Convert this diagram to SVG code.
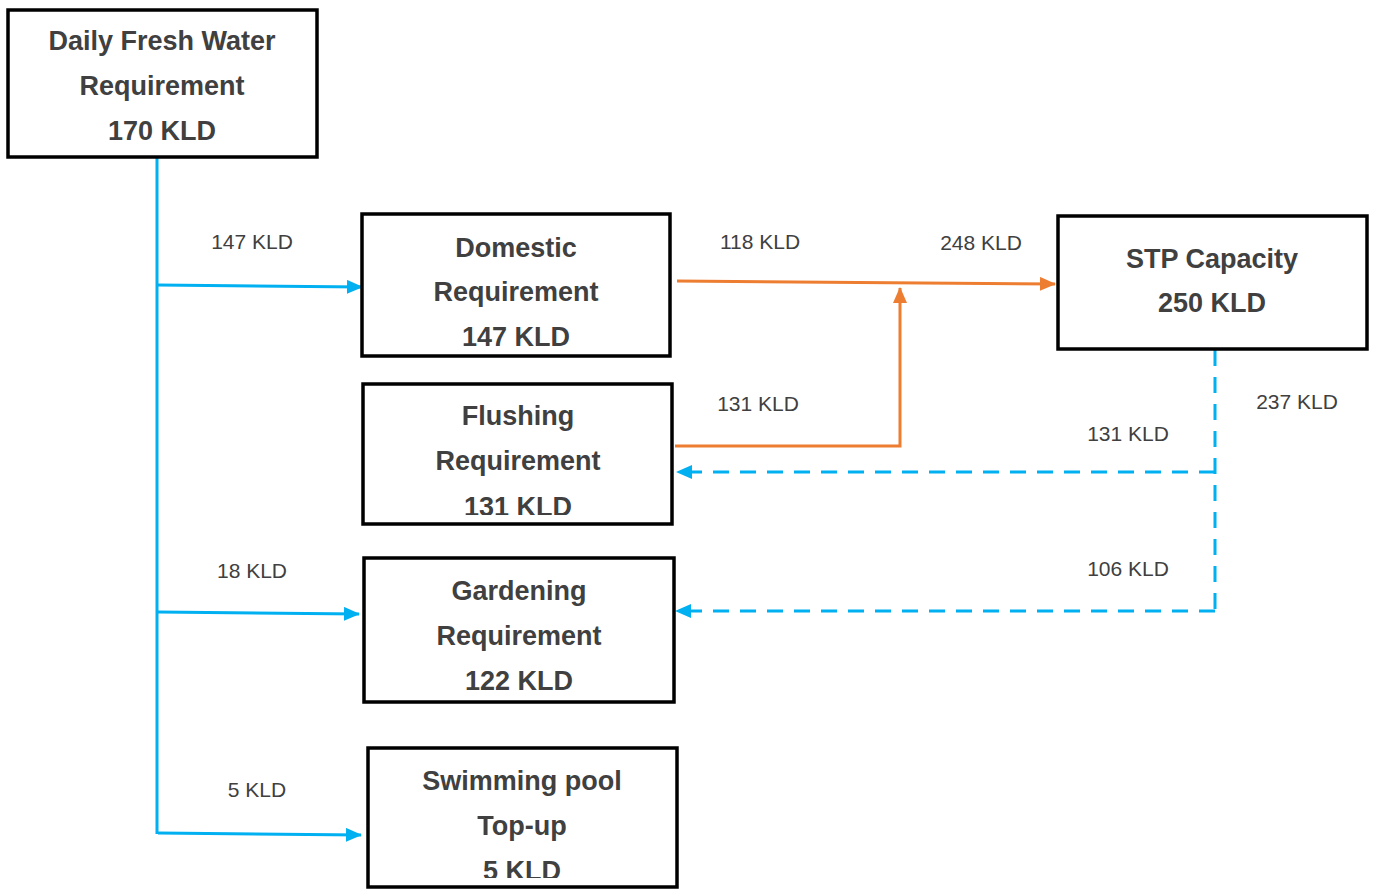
<svg xmlns="http://www.w3.org/2000/svg" width="1376" height="889" viewBox="0 0 1376 889">
<defs>
<style>
.box{fill:#fff;stroke:#000;stroke-width:3.5}
.t{font-family:"Liberation Sans",Arial,sans-serif;font-weight:bold;font-size:27px;fill:#404040;text-anchor:middle}
.l{font-family:"Liberation Sans",Arial,sans-serif;font-size:21px;fill:#404040;text-anchor:middle}
.blue{fill:none;stroke:#00B0F0;stroke-width:3}
.orange{fill:none;stroke:#ED7D31;stroke-width:3}
.dash{fill:none;stroke:#00B0F0;stroke-width:3;stroke-dasharray:16 11}
</style>
<marker id="ab" markerUnits="userSpaceOnUse" markerWidth="16" markerHeight="14" refX="15" refY="7" orient="auto"><path d="M0,0 L16,7 L0,14 Z" fill="#00B0F0"/></marker>
<marker id="ao" markerUnits="userSpaceOnUse" markerWidth="16" markerHeight="14" refX="15" refY="7" orient="auto"><path d="M0,0 L16,7 L0,14 Z" fill="#ED7D31"/></marker>
<clipPath id="cf"><rect x="363" y="384" width="309" height="131"/></clipPath>
<clipPath id="cs"><rect x="368" y="748" width="309" height="130"/></clipPath>
</defs>
<rect width="1376" height="889" fill="#fff"/>
<g id="connectors">
<path class="blue" d="M157,157 V834"/>
<path class="blue" d="M158,285 L362,287" marker-end="url(#ab)"/>
<path class="blue" d="M158,612 L359,614" marker-end="url(#ab)"/>
<path class="blue" d="M158,833 L361,835" marker-end="url(#ab)"/>
<path class="orange" d="M677,281 L1055,284" marker-end="url(#ao)"/>
<path class="orange" d="M675,446 H900 V288" marker-end="url(#ao)"/>
<path class="dash" d="M1215,350 V612"/>
<path class="dash" d="M1215,472 H677" marker-end="url(#ab)"/>
<path class="dash" d="M1215,611 H676" marker-end="url(#ab)"/>
<text class="l" x="252" y="249">147 KLD</text>
<text class="l" x="252" y="578">18 KLD</text>
<text class="l" x="257" y="797">5 KLD</text>
<text class="l" x="760" y="249">118 KLD</text>
<text class="l" x="981" y="250">248 KLD</text>
<text class="l" x="758" y="411">131 KLD</text>
<text class="l" x="1297" y="409">237 KLD</text>
<text class="l" x="1128" y="441">131 KLD</text>
<text class="l" x="1128" y="576">106 KLD</text>
</g>
<g id="fresh">
<rect class="box" x="8" y="10" width="309" height="147"/>
<text class="t" x="162" y="50">Daily Fresh Water</text>
<text class="t" x="162" y="95">Requirement</text>
<text class="t" x="162" y="140">170 KLD</text>
</g>
<g id="domestic">
<rect class="box" x="362" y="214" width="308" height="142"/>
<text class="t" x="516" y="257">Domestic</text>
<text class="t" x="516" y="301">Requirement</text>
<text class="t" x="516" y="346">147 KLD</text>
</g>
<g id="flushing">
<rect class="box" x="363" y="384" width="309" height="140"/>
<g clip-path="url(#cf)">
<text class="t" x="518" y="425">Flushing</text>
<text class="t" x="518" y="470">Requirement</text>
<text class="t" x="518" y="516">131 KLD</text>
</g>
</g>
<g id="gardening">
<rect class="box" x="364" y="558" width="310" height="144"/>
<text class="t" x="519" y="600">Gardening</text>
<text class="t" x="519" y="645">Requirement</text>
<text class="t" x="519" y="690">122 KLD</text>
</g>
<g id="pool">
<rect class="box" x="368" y="748" width="309" height="139"/>
<g clip-path="url(#cs)">
<text class="t" x="522" y="790">Swimming pool</text>
<text class="t" x="522" y="835">Top-up</text>
<text class="t" x="522" y="880">5 KLD</text>
</g>
</g>
<g id="stp">
<rect class="box" x="1058" y="216" width="309" height="133"/>
<text class="t" x="1212" y="268">STP Capacity</text>
<text class="t" x="1212" y="312">250 KLD</text>
</g>
</svg>
